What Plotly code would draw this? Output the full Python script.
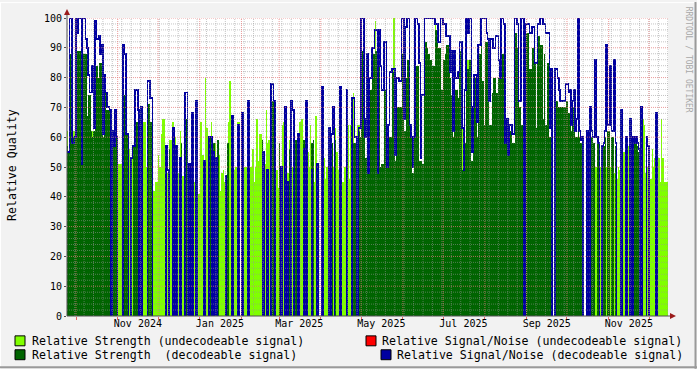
import datetime as dt
import plotly.graph_objects as go

# ---------------- data: one value per day, first day = START ----------------
START = dt.datetime(2024, 9, 24)

# Relative Strength (undecodeable signal) -> light green area
LS = [
62,52,0,0,62,62,0,0,0,0,
0,0,0,0,0,0,0,0,0,62,
0,0,0,0,0,0,0,0,0,0,
0,0,56,56,56,62,0,51,51,51,
51,51,0,0,60,58,56,52,53,54,
0,0,0,0,48,0,50,65,65,50,
0,0,0,0,42,42,45,45,54,50,
61,66,66,51,51,48,59,59,65,65,
60,57,54,48,62,0,47,43,0,0,
45,46,46,50,55,45,50,52,41,65,
65,54,50,80,63,48,0,65,0,0,
58,50,0,54,42,48,49,45,45,0,
65,79,50,50,49,50,50,65,65,0,
0,64,50,50,50,50,50,50,56,45,
50,66,52,61,61,0,50,51,69,58,
59,48,0,0,50,65,49,43,45,45,
64,65,55,50,48,59,51,50,50,50,
0,50,0,65,66,66,0,50,50,55,
50,64,0,0,45,67,45,40,0,53,
50,53,46,50,50,0,50,0,50,63,
55,55,49,50,49,45,50,50,50,64,
46,64,0,75,0,0,64,64,0,0,
0,0,0,0,0,0,0,0,0,99,
0,0,0,0,0,0,0,0,0,0,
0,0,0,100,0,0,0,0,0,0,
0,0,0,0,0,0,0,0,0,0,
0,0,0,0,0,0,0,0,0,0,
0,0,0,0,100,0,0,0,0,0,
0,0,0,0,0,0,0,0,0,0,
0,0,0,0,64,0,0,0,86,0,
0,0,0,0,0,0,0,0,0,0,
0,0,0,0,0,0,0,0,0,0,
0,0,0,0,0,0,0,0,0,0,
0,0,0,0,0,0,0,0,0,0,
0,0,0,0,80,0,0,0,0,0,
0,0,0,0,0,0,0,0,0,0,
0,0,0,0,0,0,0,65,0,0,
0,0,0,0,0,0,0,0,0,0,
0,0,0,0,0,0,0,50,55,0,
0,0,0,50,0,0,50,50,50,0,
0,50,0,0,50,0,0,48,0,46,
50,49,53,46,55,50,45,57,48,50,
53,0,0,0,0,0,64,50,66,64,
48,50,50,53,46,56,50,53,50,66,
53,45,66,53,45,45,45,
]

# Relative Strength (decodeable signal) -> dark green area
DS = [
57,55,88,88,60,60,60,89,89,89,
89,52,88,88,88,67,74,74,62,60,
62,84,84,80,85,85,78,60,75,69,
69,69,66,0,62,57,62,60,0,0,
0,0,74,74,61,61,0,0,0,57,
57,65,65,60,0,0,0,0,0,0,
71,71,65,65,0,0,0,0,0,0,
0,0,0,0,0,0,56,0,0,0,
0,0,0,0,0,58,0,0,66,66,
0,0,0,0,0,0,0,0,0,0,
0,0,0,0,0,0,60,60,57,58,
0,0,59,0,0,0,0,0,0,58,
58,0,0,0,0,0,0,0,0,0,
58,0,0,0,0,0,0,0,0,0,
0,0,0,0,0,59,0,0,0,0,
0,0,72,72,0,0,0,0,58,0,
0,0,0,0,0,56,0,0,0,0,
59,0,60,0,0,0,59,0,0,0,
0,0,58,59,0,0,0,0,0,0,
0,0,0,0,0,60,0,58,0,59,
0,0,0,0,0,0,0,0,0,0,
0,0,58,58,58,58,0,62,60,89,
89,60,53,85,48,76,76,90,88,89,
89,48,89,50,51,51,76,76,50,60,
60,60,82,82,52,70,70,70,70,88,
88,62,80,86,86,62,60,48,60,84,
84,84,52,52,51,51,92,92,90,88,
86,86,84,84,96,96,90,90,76,76,
86,88,91,91,91,80,74,60,74,76,
76,73,89,89,49,49,58,83,83,86,
86,52,68,80,80,60,88,88,92,79,
64,92,92,80,64,64,75,80,80,75,
75,80,80,88,88,88,72,66,54,62,
62,58,58,95,95,90,70,70,64,83,
0,95,95,95,83,83,90,90,85,63,
94,94,91,91,66,88,64,85,85,60,
72,0,0,72,72,70,70,70,70,70,
70,72,72,68,75,62,70,72,60,60,
85,60,58,60,0,0,0,0,0,60,
60,58,58,0,60,58,0,0,0,57,
60,0,62,62,0,60,60,0,57,0,
0,0,0,0,0,0,0,0,0,0,
0,58,58,60,57,55,0,0,0,0,
0,0,0,0,0,0,0,0,0,0,
0,0,0,0,0,0,0,
]

# Relative Signal/Noise (decodeable signal) -> blue step line
DN = [
55,55,100,100,58,58,60,100,95,100,
100,51,100,100,93,90,81,75,75,84,
63,99,93,93,94,88,91,61,81,75,
70,70,69,0,62,57,69,60,0,0,
0,0,91,88,61,61,0,0,53,57,
57,76,76,69,0,70,0,0,0,0,
79,79,73,73,0,0,0,0,0,0,
0,0,0,0,57,49,0,0,0,63,
0,57,0,0,53,0,0,0,75,75,
0,51,0,68,0,0,72,0,0,0,
0,0,52,0,0,0,60,60,0,55,
0,53,0,0,0,0,0,0,47,0,
0,0,0,67,0,0,0,64,0,0,
68,0,0,0,0,72,0,0,0,0,
0,0,0,0,0,0,55,0,0,49,
0,0,78,78,72,0,0,0,0,50,
0,0,70,0,45,0,0,72,69,0,
0,0,61,0,0,0,56,0,72,0,
0,0,49,0,0,0,51,0,0,0,
77,0,0,0,0,63,0,61,70,0,
0,0,0,77,0,0,0,0,76,0,
0,0,73,73,60,60,0,63,63,100,
100,66,60,88,48,80,80,90,90,96,
96,48,96,84,76,76,92,92,50,64,
82,82,83,83,54,80,80,79,79,100,
100,66,97,100,100,64,60,50,60,100,
100,98,85,53,74,74,100,100,100,100,
100,100,100,100,98,98,92,92,100,100,
98,98,94,94,94,82,89,62,89,80,
80,82,92,92,63,49,76,100,95,100,
100,55,70,81,81,65,91,91,100,100,
100,100,95,93,72,93,93,90,90,94,
94,86,80,100,100,98,58,66,54,64,
64,61,61,100,100,98,72,72,100,100,
0,98,98,98,95,95,97,97,85,85,
98,98,100,100,98,98,95,95,95,63,
83,0,0,83,83,80,76,72,72,72,
72,78,78,75,76,64,72,76,62,66,
100,62,59,60,0,0,0,62,0,70,
62,60,60,86,60,58,0,0,57,58,
62,91,64,64,84,62,62,86,58,0,
0,0,69,0,0,0,60,0,0,66,
0,60,58,60,58,56,0,70,0,0,
0,60,57,0,0,0,0,0,68,0,
0,0,0,0,0,0,0,
]

assert len(LS) == len(DS) == len(DN)

Y_TICKS = list(range(0, 101, 10))
X_LABELS = ["Nov 2024", "Jan 2025", "Mar 2025", "May 2025", "Jul 2025", "Sep 2025", "Nov 2025"]
LEGEND = [
    ("Relative Strength (undecodeable signal)", "#80FF00"),
    ("Relative Strength  (decodeable signal)", "#006400"),
    ("Relative Signal/Noise (undecodeable signal)", "#FF0000"),
    ("Relative Signal/Noise (decodeable signal)", "#0000A0"),
]

# ---------------- geometry ----------------
W, H = 697, 369
L, T, PW, PH = 67, 16, 601, 300
PX_PER_DAY = 1.3451
NOV1 = dt.datetime(2024, 11, 1)
x0 = NOV1 - dt.timedelta(days=(117.7 - L) / PX_PER_DAY)
x1 = x0 + dt.timedelta(days=PW / PX_PER_DAY)
DAY_MS = 86400000
UNIT_PER_PX = 100.0 / PH
LINE_PX = 2      # thickness of the horizontal parts
VERT_PX = 1.5    # thickness of the vertical parts

def px(xp):
    return (xp - L) / PW

def py(yp):
    return (T + PH - yp) / PH

def rgba(hexcol, a=0.999):
    h = hexcol.lstrip("#")
    return f"rgba({int(h[0:2],16)},{int(h[2:4],16)},{int(h[4:6],16)},{a})"

n = len(LS)
days = [START + dt.timedelta(days=i) for i in range(n)]
LG, DG, BL = "#80FF00", "#006400", "#0000A0"

fig = go.Figure()
for vals, col in ((LS, LG), (DS, DG)):
    fig.add_trace(go.Bar(x=days, y=vals, width=DAY_MS, offset=0,
                         marker=dict(color=rgba(col), line=dict(width=0)),
                         hoverinfo="skip", showlegend=False))

half = LINE_PX / 2 * UNIT_PER_PX
h_base = [v - half if v > 0 else 0 for v in DN]
h_len = [2 * half if v > 0 else None for v in DN]
v_x, v_base, v_len = [], [], []
for i in range(n - 1):
    a, b = DN[i], DN[i + 1]
    if a != b:
        lo, hi = min(a, b), max(a, b)
        v_x.append(START + dt.timedelta(days=i + 1))
        v_base.append(lo - half)
        v_len.append(hi - lo + 2 * half)
VW = VERT_PX / PX_PER_DAY * DAY_MS
fig.add_trace(go.Bar(x=v_x, y=v_len, base=v_base, width=VW, offset=-VW / 2,
                     marker=dict(color=rgba(BL), line=dict(width=0)), hoverinfo="skip", showlegend=False))
fig.add_trace(go.Bar(x=days, y=h_len, base=h_base, width=DAY_MS, offset=0,
                     marker=dict(color=rgba(BL), line=dict(width=0)), hoverinfo="skip", showlegend=False))

shapes = []
GRID_MAJ = "rgba(230,120,120,0.75)"
GRID_MIN = "rgba(150,150,150,0.55)"
for v in range(2, 101, 2):
    major = v % 10 == 0
    shapes.append(dict(type="line", xref="paper", yref="y", x0=0, x1=1, y0=v, y1=v, layer="above",
                       line=dict(color=GRID_MAJ if major else GRID_MIN, width=1, dash="1px,1px")))
d = dt.datetime(2024, 9, 30)
while d < x1:
    shapes.append(dict(type="line", xref="x", yref="paper", x0=d, x1=d, y0=0, y1=1, layer="above",
                       line=dict(color=GRID_MIN, width=1, dash="1px,1px")))
    d += dt.timedelta(days=7)
months = []
y_, m_ = 2024, 10
while True:
    d = dt.datetime(y_, m_, 1)
    if d > x1:
        break
    months.append(d)
    m_ += 1
    if m_ > 12:
        m_, y_ = 1, y_ + 1
for d in months:
    shapes.append(dict(type="line", xref="x", yref="paper", x0=d, x1=d, y0=0, y1=1, layer="above",
                       line=dict(color=GRID_MAJ, width=1, dash="1px,1px")))
AX = "#505050"
shapes.append(dict(type="line", xref="paper", yref="paper", x0=px(67), x1=px(673), y0=0, y1=0,
                   line=dict(color=AX, width=1), layer="above"))
shapes.append(dict(type="line", xref="paper", yref="paper", x0=0, x1=0, y0=0, y1=py(10),
                   line=dict(color=AX, width=1), layer="above"))
AR = "#9B1C1C"
shapes.append(dict(type="path", xref="paper", yref="paper", layer="above", fillcolor=AR, line=dict(width=0),
                   path=f"M {px(64)} {py(13)} L {px(70)} {py(13)} L {px(67)} {py(7)} Z"))
shapes.append(dict(type="path", xref="paper", yref="paper", layer="above", fillcolor=AR, line=dict(width=0),
                   path=f"M {px(670)} {py(313)} L {px(670)} {py(319)} L {px(676)} {py(316)} Z"))
shapes.append(dict(type="line", xref="paper", yref="paper", x0=px(0), x1=px(697), y0=py(0.5), y1=py(0.5),
                   line=dict(color="#ffffff", width=1)))
shapes.append(dict(type="line", xref="paper", yref="paper", x0=px(0.5), x1=px(0.5), y0=py(0), y1=py(369),
                   line=dict(color="#ffffff", width=1)))
shapes.append(dict(type="line", xref="paper", yref="paper", x0=px(0), x1=px(697), y0=py(367.5), y1=py(367.5),
                   line=dict(color="#9a9a9a", width=2)))
shapes.append(dict(type="line", xref="paper", yref="paper", x0=px(695.5), x1=px(695.5), y0=py(0), y1=py(369),
                   line=dict(color="#9a9a9a", width=2)))

annotations = []
FONT = "DejaVu Sans Mono"
leg_pos = [(15, 341, 30), (15, 355, 30), (366, 341, 380), (381, 355, 395)]
for (label, col), (sx_, sy_, tx) in zip(LEGEND, leg_pos):
    shapes.append(dict(type="rect", xref="paper", yref="paper", x0=px(sx_), x1=px(sx_ + 10),
                       y0=py(sy_ + 5), y1=py(sy_ - 5), fillcolor=col, line=dict(color="#000000", width=1)))
    annotations.append(dict(text=label, xref="paper", yref="paper", x=px(tx), y=py(sy_), xanchor="left",
                            yanchor="middle", showarrow=False, font=dict(family=FONT, size=11.6, color="#000")))
annotations.append(dict(text="Relative Quality", xref="paper", yref="paper", x=px(12), y=py(164),
                        xanchor="center", yanchor="middle", textangle=-90, showarrow=False,
                        font=dict(family=FONT, size=11.6, color="#000")))
annotations.append(dict(text="RRDTOOL / TOBI OETIKER", xref="paper", yref="paper", x=px(688), y=py(58),
                        xanchor="center", yanchor="middle", textangle=90, showarrow=False,
                        font=dict(family=FONT, size=8, color="#a8a8a8")))

label_pos = [dt.datetime(2024, 11, 16), dt.datetime(2025, 1, 16), dt.datetime(2025, 3, 16),
             dt.datetime(2025, 5, 16), dt.datetime(2025, 7, 16), dt.datetime(2025, 9, 16),
             dt.datetime(2025, 11, 16)]

fig.update_layout(
    width=W, height=H, margin=dict(l=L, r=W - L - PW, t=T, b=H - T - PH),
    paper_bgcolor="#f2f2f2", plot_bgcolor="#ffffff", showlegend=False,
    barmode="overlay", bargap=0, bargroupgap=0,
    shapes=shapes, annotations=annotations,
    xaxis=dict(type="date", range=[x0, x1], showgrid=False, zeroline=False, showline=False,
               tickmode="array", tickvals=label_pos, ticktext=X_LABELS, ticks="",
               tickfont=dict(family=FONT, size=10, color="#000"),
               minor=dict(tickmode="array", tickvals=months, ticks="outside", ticklen=3,
                          tickcolor="rgba(230,100,100,1)", showgrid=False)),
    yaxis=dict(range=[0, 100], showgrid=False, zeroline=False, showline=False,
               tickmode="array", tickvals=Y_TICKS, ticks="outside", ticklen=2, tickcolor=AX,
               tickfont=dict(family=FONT, size=10, color="#000")),
)
fig.write_html("out.html")
